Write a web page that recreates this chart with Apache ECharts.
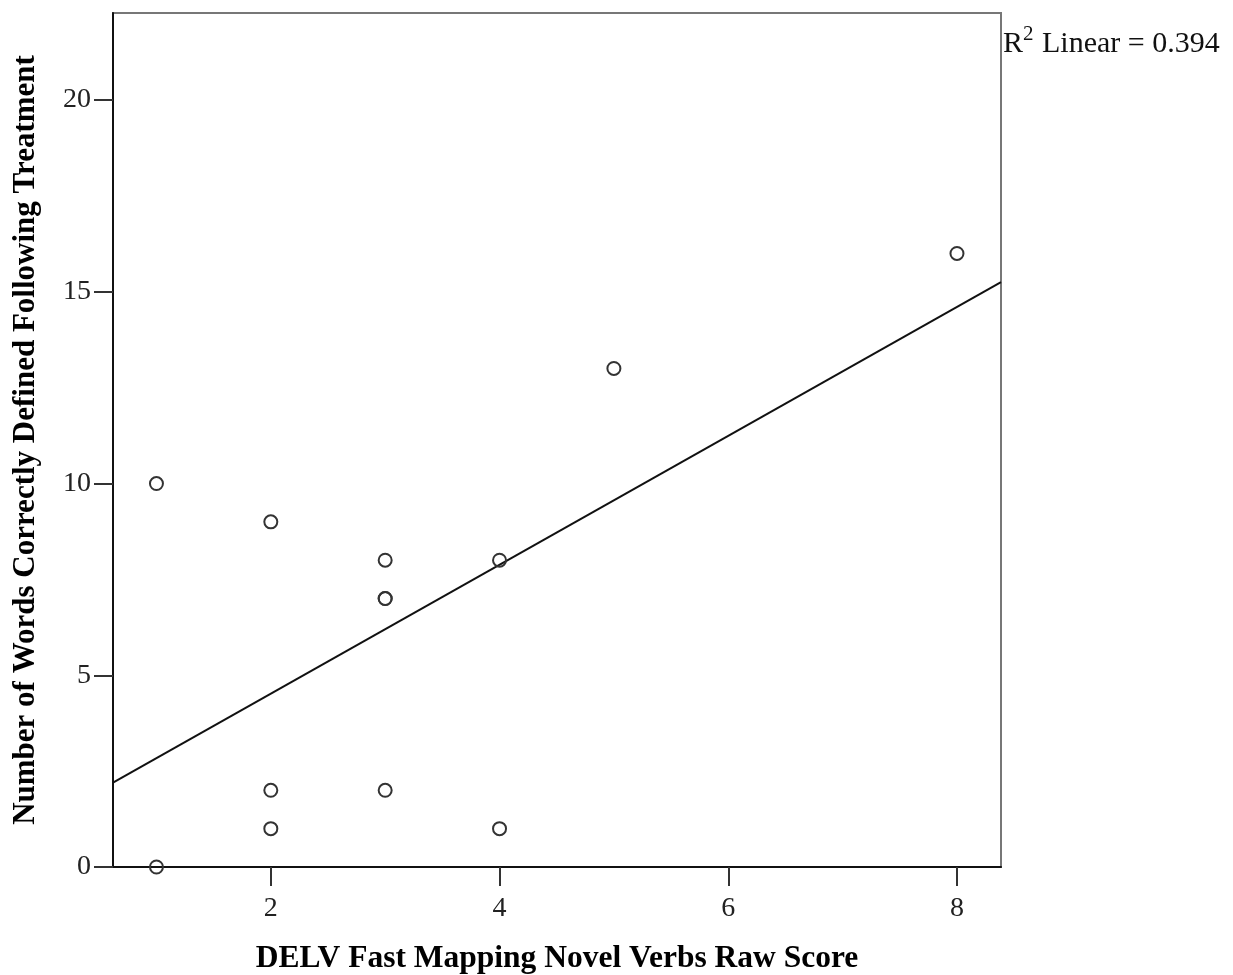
<!DOCTYPE html>
<html>
<head>
<meta charset="utf-8">
<script src="https://cdn.jsdelivr.net/npm/echarts@6/dist/echarts.min.js"></script>
<style>
html, body { margin: 0; padding: 0; background: #fff; }
#main { width: 1233px; height: 975px; }
</style>
</head>
<body>
<div id="main"></div>
<script>
// raw scores (x) and words defined (y)
var rawScore = [1, 1, 2, 2, 2, 3, 3, 3, 3, 4, 4, 5, 8];
var wordsDefined = [0, 10, 9, 2, 1, 8, 7, 7, 2, 8, 1, 13, 16];
var xTicks = [2, 4, 6, 8];
var yTicks = [0, 5, 10, 15, 20];
var xMin = 0.62, xMax = 8.385;
var yMin = 0, yMax = 22.27;

var points = [];
for (var i = 0; i < rawScore.length; i++) {
    points.push([rawScore[i], wordsDefined[i]]);
}

// linear fit
var n = rawScore.length, sx = 0, sy = 0, sxx = 0, sxy = 0, syy = 0;
for (var i = 0; i < n; i++) {
    sx += rawScore[i]; sy += wordsDefined[i];
    sxx += rawScore[i] * rawScore[i];
    sxy += rawScore[i] * wordsDefined[i];
    syy += wordsDefined[i] * wordsDefined[i];
}
var slope = (sxy - sx * sy / n) / (sxx - sx * sx / n);
var intercept = sy / n - slope * sx / n;
var r2 = Math.pow(sxy - sx * sy / n, 2) / ((sxx - sx * sx / n) * (syy - sy * sy / n));
var fitLine = [[xMin, intercept + slope * xMin], [xMax, intercept + slope * xMax]];

var font = '"Liberation Serif", "Times New Roman", serif';

var chart = echarts.init(document.getElementById('main'));
var option = {
    backgroundColor: '#fff',
    animation: false,
    grid: {
        left: 113,
        top: 13,
        right: 232,
        bottom: 108,
        outerBoundsMode: 'none',
        containLabel: false,
        show: true,
        borderColor: '#777',
        borderWidth: 2
    },
    xAxis: {
        type: 'value',
        min: xMin,
        max: xMax,
        name: 'DELV Fast Mapping Novel Verbs Raw Score',
        nameLocation: 'middle',
        nameGap: 76,
        nameTextStyle: { fontFamily: font, fontWeight: 'bold', fontSize: 31.5, color: '#000' },
        axisLine: { onZero: false, lineStyle: { color: '#111', width: 2 } },
        axisTick: { show: true, length: 19, lineStyle: { color: '#333', width: 2 }, customValues: xTicks },
        axisLabel: { fontFamily: font, fontSize: 28, color: '#222', margin: 28, customValues: xTicks },
        splitLine: { show: false }
    },
    yAxis: {
        type: 'value',
        min: yMin,
        max: yMax,
        name: 'Number of Words Correctly Defined Following Treatment',
        nameLocation: 'middle',
        nameGap: 72,
        nameTextStyle: { fontFamily: font, fontWeight: 'bold', fontSize: 31, color: '#000' },
        axisLine: { onZero: false, lineStyle: { color: '#111', width: 2 } },
        axisTick: { show: true, length: 19, lineStyle: { color: '#333', width: 2 }, customValues: yTicks },
        axisLabel: { fontFamily: font, fontSize: 28, color: '#222', margin: 22, customValues: yTicks },
        splitLine: { show: false }
    },
    graphic: [{
        type: 'text',
        left: 1003,
        top: 24,
        style: {
            text: '{b|R}{s|2}{b| Linear = ' + r2.toFixed(3) + '}',
            rich: {
                b: { fontFamily: font, fontSize: 30, fill: '#111', verticalAlign: 'bottom' },
                s: { fontFamily: font, fontSize: 21, fill: '#111', verticalAlign: 'top', padding: [0, 1, 14, 0] }
            }
        }
    }],
    series: [
        {
            name: 'Fit',
            type: 'line',
            data: fitLine,
            showSymbol: false,
            lineStyle: { color: '#111', width: 2 },
            silent: true
        },
        {
            name: 'Observed',
            type: 'scatter',
            data: points,
            symbol: 'circle',
            symbolSize: 13,
            itemStyle: { color: 'rgba(255,255,255,0)', borderColor: '#333', borderWidth: 2, opacity: 1 },
            z: 3
        }
    ]
};
chart.setOption(option);

window.onresize = function () {
    chart.resize();
};
</script>
</body>
</html>
